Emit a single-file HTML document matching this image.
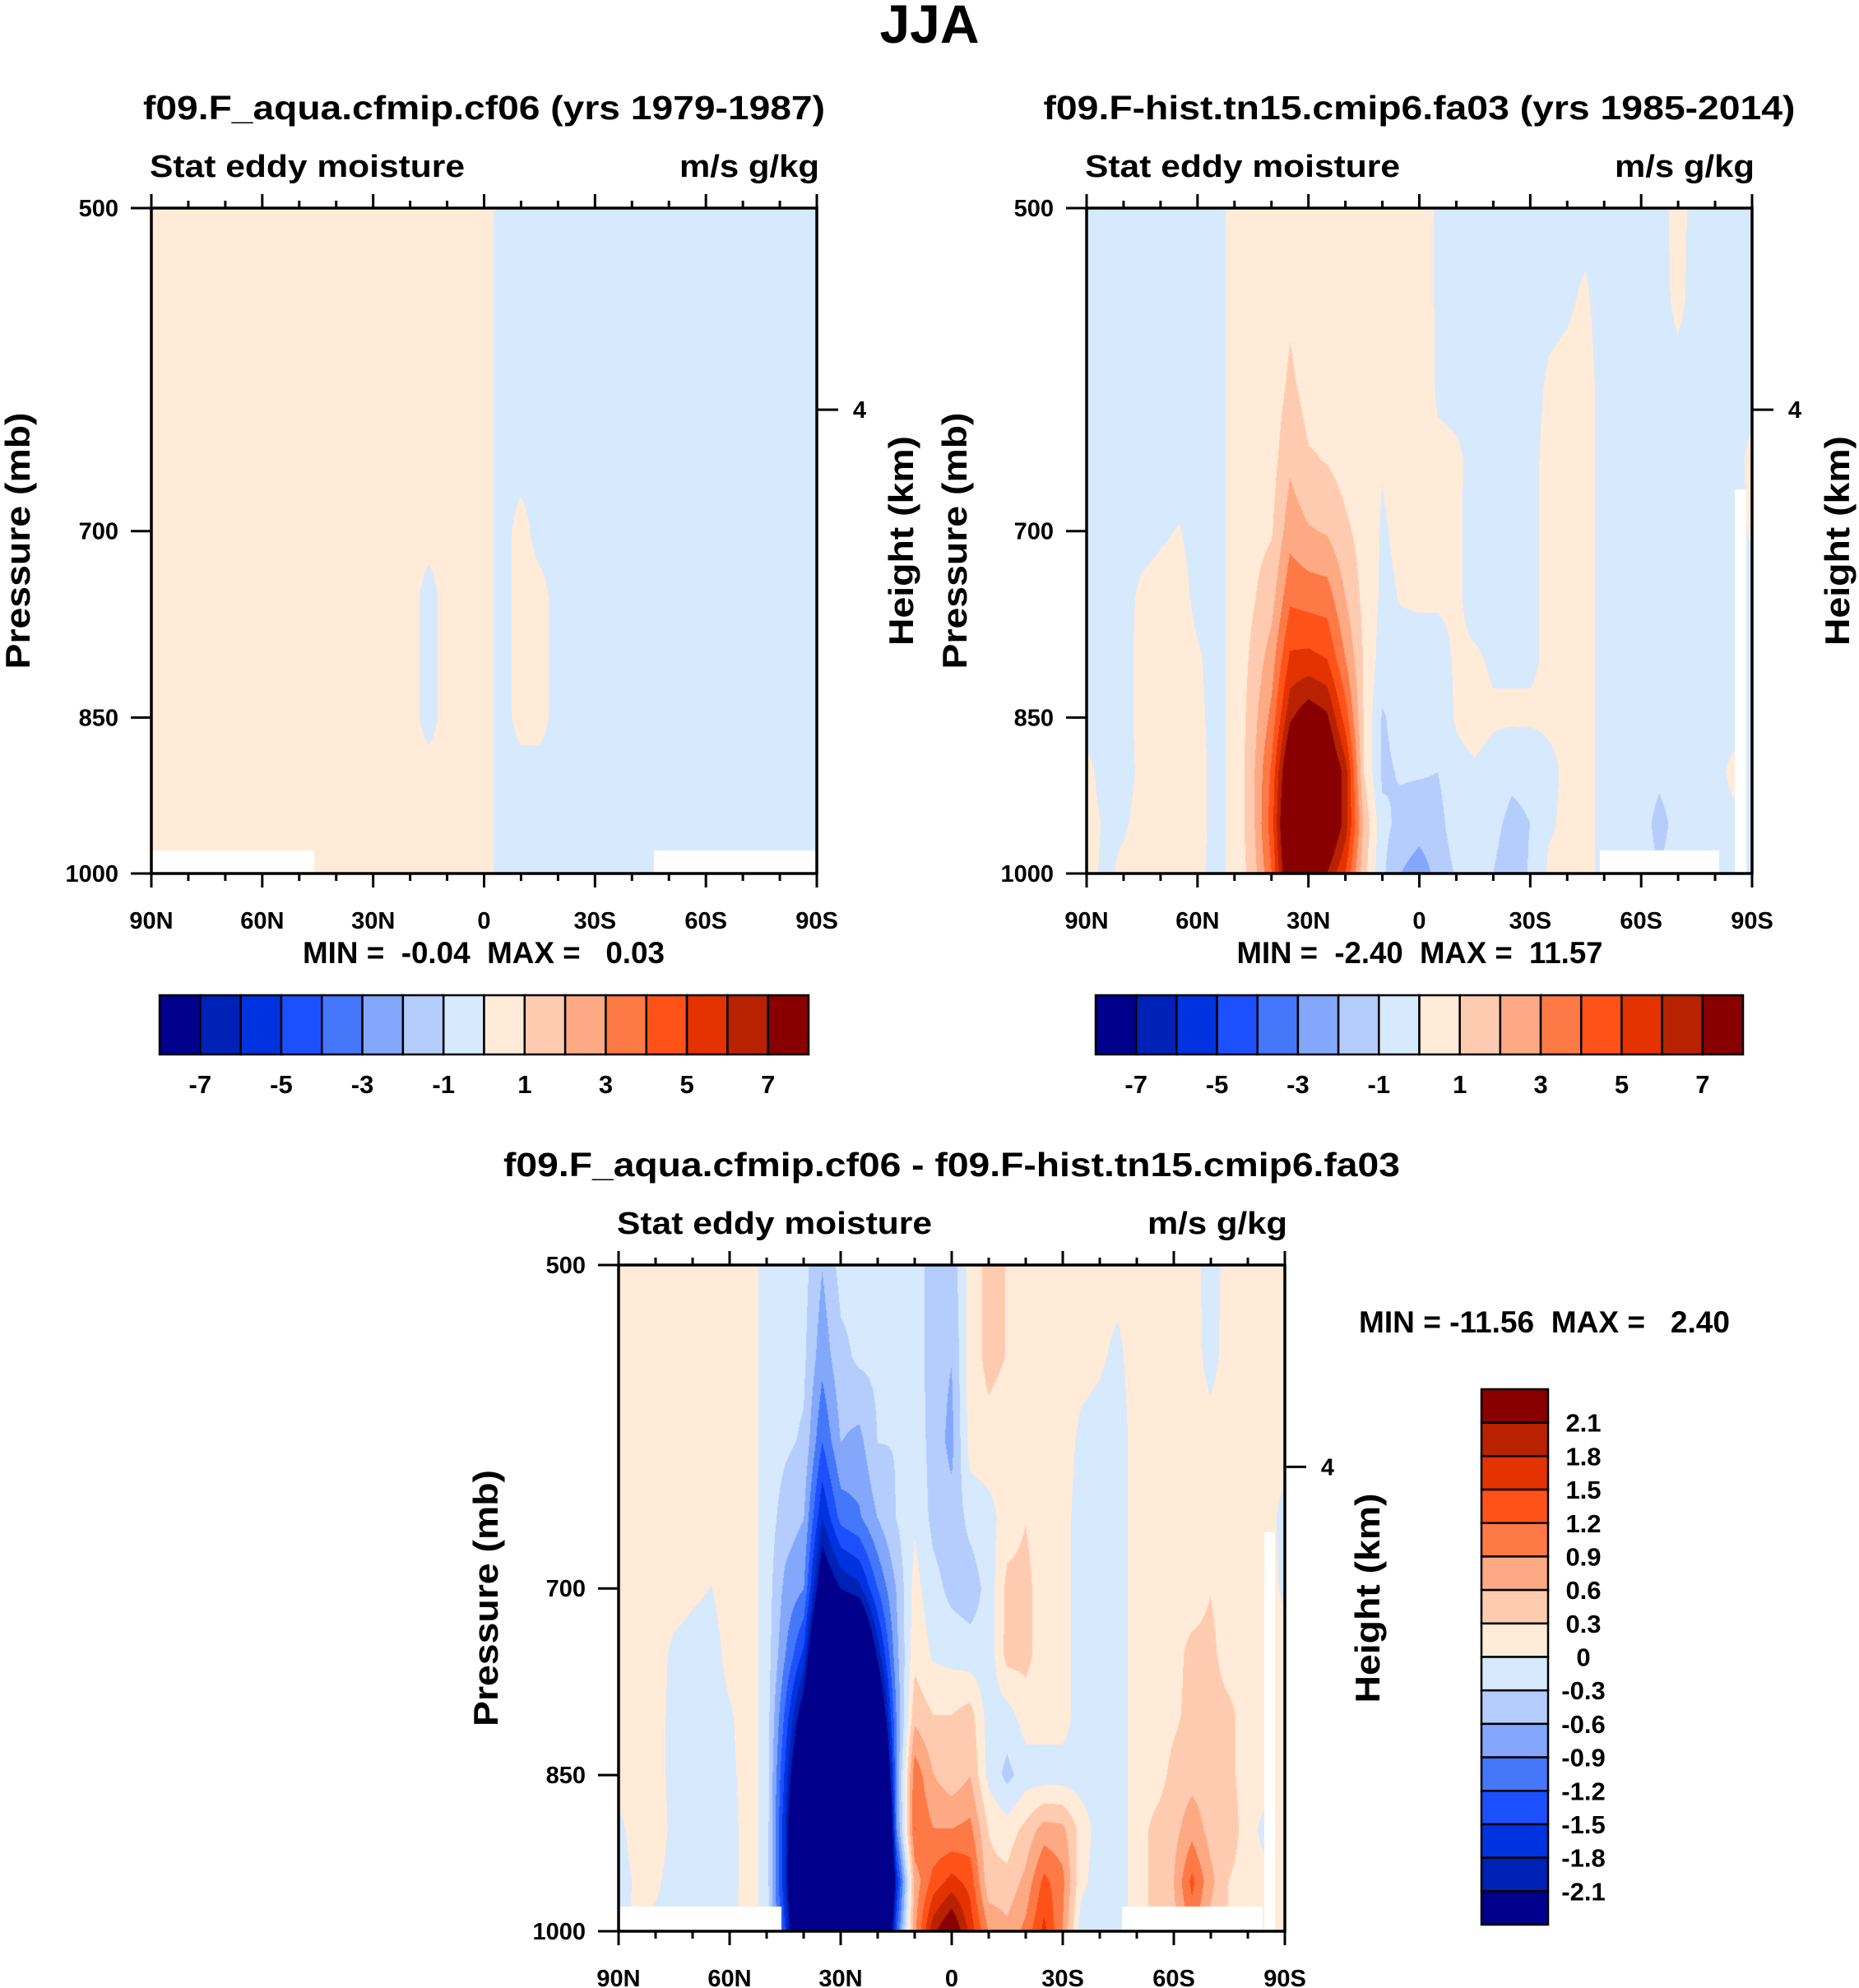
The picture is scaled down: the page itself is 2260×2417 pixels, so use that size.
<!DOCTYPE html>
<html><head><meta charset="utf-8">
<style>
html,body{margin:0;padding:0;background:#fff;}
#wrap{position:relative;width:2260px;height:2417px;overflow:hidden;background:#fff;}
canvas{position:absolute;}
svg{position:absolute;left:0;top:0;}
text{font-family:"Liberation Sans",Arial,sans-serif;font-weight:bold;fill:#000;}
</style></head>
<body>
<div id="wrap">
<canvas id="c1" width="809" height="809" style="left:184px;top:253px"></canvas>
<canvas id="c2" width="809" height="809" style="left:1321px;top:253px"></canvas>
<canvas id="c3" width="810" height="810" style="left:752px;top:1538px"></canvas>
<svg id="ov" width="2260" height="2417" xmlns="http://www.w3.org/2000/svg">
<text x="1130" y="52" font-size="66" text-anchor="middle">JJA</text>
</svg>
</div>
<script>
// ---------- data ----------
const levels = [500,550,600,650,700,750,800,850,900,950,1000];
const lats = [90,85,80,75,70,65,60,55,50,45,40,35,30,25,20,15,10,5,0,-5,-10,-15,-20,-25,-30,-35,-40,-45,-50,-55,-60,-65,-70,-75,-80,-85,-90];
// fa03 field, one array per latitude (values at the 11 levels)
const p2ByLat = [
[-.15,-.15,-.15,-.15,-.15,-.15,-.15,-.15,.1,.15,.15],
[-.15,-.15,-.15,-.15,-.15,-.15,-.15,-.15,-.15,-.05,-.1],
[-.15,-.15,-.15,-.15,-.15,-.15,-.15,-.15,-.15,-.05,.1],
[-.15,-.15,-.15,-.15,-.15,.1,.15,.15,.1,.15,.15],
[-.15,-.15,-.15,-.15,-.05,.15,.15,.15,.15,.15,.15],
[-.15,-.15,-.15,-.15,.02,.15,.15,.15,.15,.15,.15],
[-.15,-.15,-.15,-.15,-.15,-.1,.05,.1,.15,.15,.1],
[-.15,-.15,-.15,-.15,-.15,-.15,-.15,-.15,-.15,-.15,-.15],
[.15,.15,.15,.15,.15,.15,.15,.15,.15,.15,.15],
[.15,.2,.25,.45,.7,.9,1.3,1.6,1.8,1.8,1.5],
[.2,.25,.35,.6,.9,1.6,2.5,3.3,4.2,4.5,4.0],
[.6,.8,1.2,1.8,2.6,3.8,5.2,6.8,9,10,9],
[.2,.4,.6,1.1,2.1,3.6,5.3,7.8,11,11.5,11],
[.2,.25,.7,.95,1.9,3.5,5.0,7.2,9,9,7],
[.2,.25,.3,.6,1.2,2.0,3.0,4.5,6.5,6.5,5],
[.2,.2,.3,.3,.6,.7,.9,.9,1.0,1.8,1.3],
[.1,.1,.1,.05,-.1,-.2,-.5,-1.1,-1.2,-.7,-.8],
[.5,.5,.45,.4,.2,.05,-.3,-.6,-.9,-1.3,-2.0],
[.5,.6,.7,.5,.4,.1,-.3,-.4,-.9,-1.6,-2.5],
[-.15,-.15,-.15,.2,.45,.15,-.45,-.6,-1.0,-1.4,-1.7],
[-.4,-.4,-.2,.1,.2,.2,.15,.1,-.3,-.4,-.9],
[-.3,-.3,-.15,-.15,-.4,-.4,.15,.4,-.15,-.4,-.7],
[-.15,-.15,-.15,-.3,-.4,-.4,-.15,.15,-.4,-.7,-1.0],
[-.15,-.15,-.15,-.15,-.15,-.15,-.15,.15,-.75,-1.3,-1.6],
[-.15,-.15,-.15,-.15,-.15,-.15,-.15,.15,-.7,-1.0,-.9],
[-.1,-.1,.05,.15,.15,.15,.15,.15,-.2,-.1,.15],
[-.1,-.05,.1,.15,.15,.15,.15,.15,.15,.15,.15],
[-.1,.05,.15,.15,.15,.15,.15,.15,.15,.15,.15],
[-.15,-.15,-.15,-.15,-.15,-.15,-.15,-.15,-.15,-.15,-.15],
[-.15,-.15,-.15,-.15,-.15,-.15,-.15,-.15,-.4,-.4,-.4],
[-.15,-.15,-.15,-.15,-.2,-.2,-.25,-.4,-.5,-.6,-.5],
[-.15,-.15,-.15,-.15,-.15,-.4,-.4,-.5,-.8,-1.3,-1.0],
[.15,.1,-.15,-.15,-.3,-.4,-.45,-.45,-.5,-.7,-.5],
[-.15,-.15,-.15,-.15,-.15,-.15,-.4,-.4,-.5,-.3,-.3],
[-.15,-.15,-.15,-.15,-.15,-.15,-.15,-.15,-.15,-.15,-.15],
[-.15,-.15,-.15,-.15,-.15,-.15,-.15,-.15,.1,-.1,-.1],
[-.15,-.15,-.15,.1,.05,-.15,-.15,-.15,-.15,-.15,-.15]
];
// cf06 field: sign per latitude, with a few mid-level exceptions
const p1Base = [.01,.01,.01,.01,.01,.01,.01,.01,.01,.01,.01,.01,.01,.01,.01,.01,.01,.01,.01,-.01,-.01,-.01,-.01,-.01,-.01,-.01,-.01,-.01,-.01,-.01,-.01,-.01,-.01,-.01,-.01,-.01,-.01];
const p1Exceptions = [[15,5,-.01],[15,6,-.01],[15,7,-.01],[20,4,.01],[20,5,.01],[20,6,.01],[20,7,.01],[21,5,.01],[21,6,.01],[21,7,.01]];
const contourLevelsA = [-7,-6,-5,-4,-3,-2,-1,0,1,2,3,4,5,6,7];
const contourLevelsB = [-2.1,-1.8,-1.5,-1.2,-0.9,-0.6,-0.3,0,0.3,0.6,0.9,1.2,1.5,1.8,2.1];
const labelsA = ["-7","-5","-3","-1","1","3","5","7"];
const labelsB = ["2.1","1.8","1.5","1.2","0.9","0.6","0.3","0","-0.3","-0.6","-0.9","-1.2","-1.5","-1.8","-2.1"];
const xTickLabels = ["90N","60N","30N","0","30S","60S","90S"];
const yTickLabels = [500,700,850,1000];
const colors = ["#00008c","#0021b5","#0033e0","#1c50ff","#4577fa","#83a8fb","#b4cdfc","#d6e9fd","#ffebd7","#ffcbb0","#fdaa84","#fd7945","#ff5219","#e43200","#b82200","#880000"];

// ---------- derived fields ----------
const p1ByLat = lats.map((l,k)=>levels.map(()=>p1Base[k]));
p1Exceptions.forEach(e=>{p1ByLat[e[0]][e[1]]=e[2];});
const p3ByLat = lats.map((l,k)=>levels.map((v,j)=>p1ByLat[k][j]-p2ByLat[k][j]));

function sample(field, lat, p){
  let fk=(90-lat)/5; fk=Math.max(0,Math.min(36,fk));
  let fj=(p-500)/50; fj=Math.max(0,Math.min(10,fj));
  const k0=Math.min(35,Math.floor(fk)), j0=Math.min(9,Math.floor(fj));
  const a=fk-k0, b=fj-j0;
  const v00=field[k0][j0],v10=field[k0+1][j0],v01=field[k0][j0+1],v11=field[k0+1][j0+1];
  return (1-a)*(1-b)*v00+a*(1-b)*v10+(1-a)*b*v01+a*b*v11;
}
function colorIndex(v,lv){let i=0;while(i<lv.length&&v>=lv[i])i++;return i;}
function hexRgb(h){return [parseInt(h.substr(1,2),16),parseInt(h.substr(3,2),16),parseInt(h.substr(5,2),16)];}
const rgb=colors.map(hexRgb);
function drawField(id, field, lv, masks){
  const c=document.getElementById(id), W=c.width, H=c.height, ctx=c.getContext('2d');
  const img=ctx.createImageData(W,H);
  for(let y=0;y<H;y++){
    const p=500*Math.pow(2,y/(H-1));
    for(let x=0;x<W;x++){
      const lat=90-180*x/(W-1);
      let col=rgb[colorIndex(sample(field,lat,p),lv)];
      for(const m of masks){ if(lat<=m[0]&&lat>=m[1]&&p>=m[2]){col=[255,255,255];break;} }
      const o=(y*W+x)*4; img.data[o]=col[0];img.data[o+1]=col[1];img.data[o+2]=col[2];img.data[o+3]=255;
    }
  }
  ctx.putImageData(img,0,0);
}
drawField('c1',p1ByLat,contourLevelsA,[[90,46,977],[-46,-90,977]]);
drawField('c2',p2ByLat,contourLevelsA,[[-48.8,-81.3,977],[-85.5,-88.6,670]]);
drawField('c3',p3ByLat,contourLevelsB,[[90,46,975],[-46,-84,975],[-84.5,-87.5,660]]);

// ---------- axes / text ----------
const NS="http://www.w3.org/2000/svg";
const svg=document.getElementById('ov');
function el(tag,attrs,txt){const e=document.createElementNS(NS,tag);for(const k in attrs)e.setAttribute(k,attrs[k]);if(txt!==undefined)e.textContent=txt;svg.appendChild(e);return e;}
function panel(L,T,S,cfg){
  const xs=lat=>L+(90-lat)/180*S;
  const ys=p=>T+Math.log(p/500)/Math.LN2*S;
  const f=el('rect',{x:L,y:T,width:S,height:S,fill:'none',stroke:'#000','stroke-width':3.5});
   
  for(let lat=90;lat>=-90;lat-=10){
    const major=(lat%30===0), len=major?17:9, x=xs(lat);
    const t1=el('line',{x1:x,x2:x,y1:T,y2:T-len,stroke:'#000','stroke-width':3});
     
    const t2=el('line',{x1:x,x2:x,y1:T+S,y2:T+S+len,stroke:'#000','stroke-width':3});
     
  }
  xTickLabels.forEach((s,i)=>{
    const t=el('text',{x:xs(90-30*i),y:T+S+67,'font-size':29,'text-anchor':'middle'},s);
     
  });
  yTickLabels.forEach(p=>{
    const y=ys(p);
    const l=el('line',{x1:L-25,x2:L,y1:y,y2:y,stroke:'#000','stroke-width':3});
     
    const t=el('text',{x:L-40,y:y+10,'font-size':29,'text-anchor':'end'},String(p));
     
  });
  const hy=T+0.303*S;
  const rl=el('line',{x1:L+S,x2:L+S+26,y1:hy,y2:hy,stroke:'#000','stroke-width':3});
   
  const rt=el('text',{x:L+S+52,y:hy+10,'font-size':29,'text-anchor':'middle'},'4');
   
  const pcx=cfg.px, pcy=T+S/2;
  const pt=el('text',{x:pcx,y:pcy,'font-size':42,'text-anchor':'middle',transform:`rotate(-90 ${pcx} ${pcy})`,dy:14,textLength:312,lengthAdjust:'spacingAndGlyphs'},'Pressure (mb)');
   
  const hcx=cfg.hx;
  const ht=el('text',{x:hcx,y:pcy,'font-size':42,'text-anchor':'middle',transform:`rotate(-90 ${hcx} ${pcy})`,dy:14,textLength:255,lengthAdjust:'spacingAndGlyphs'},'Height (km)');
   
  const tt=el('text',{x:L+S/2,y:cfg.ty,'font-size':41,'text-anchor':'middle',textLength:cfg.tw,lengthAdjust:'spacingAndGlyphs'},cfg.title);
   
  const lt=el('text',{x:L-2,y:T-38,'font-size':38,textLength:383,lengthAdjust:'spacingAndGlyphs'},'Stat eddy moisture');
   
  const ut=el('text',{x:L+S+3,y:T-38,'font-size':38,'text-anchor':'end',textLength:170,lengthAdjust:'spacingAndGlyphs'},'m/s g/kg');
   
}
panel(184,253,809,{n:'cf06',px:22,hx:1096,ty:145,tw:829,title:'f09.F_aqua.cfmip.cf06 (yrs 1979-1987)'});
panel(1321,253,809,{n:'fa03',px:1161,hx:2234,ty:145,tw:914,title:'f09.F-hist.tn15.cmip6.fa03 (yrs 1985-2014)'});
panel(752,1538,810,{n:'diff',px:591,hx:1663,ty:1430,tw:1090,title:'f09.F_aqua.cfmip.cf06 - f09.F-hist.tn15.cmip6.fa03'});

function minmax(x,y,s,anchor,w){
  const t=el('text',{x:x,y:y,'font-size':37,'text-anchor':anchor,textLength:w,lengthAdjust:'spacingAndGlyphs'},s);
   
  t.style.whiteSpace='pre';
}
minmax(588,1171,'MIN =  -0.04  MAX =   0.03','middle',440);
minmax(1726,1171,'MIN =  -2.40  MAX =  11.57','middle',445);
minmax(1652,1620,'MIN = -11.56  MAX =   2.40','start',451);

function hbar(L,T,W,H){
  const bw=W/16;
  colors.forEach((c,i)=>{
    const r=el('rect',{x:L+i*bw,y:T,width:bw,height:H,fill:c,stroke:'#000','stroke-width':2.5});
     
  });
  labelsA.forEach((s,i)=>{
    const t=el('text',{x:L+(1+2*i)*bw,y:T+H+47,'font-size':31,'text-anchor':'middle'},s);
     
  });
}
hbar(194,1210,789,72);
hbar(1332,1210,787,72);
(function(){
  const L=1801,T=1689,W=81,H=651,bh=H/16;
  colors.slice().reverse().forEach((c,i)=>{
    const r=el('rect',{x:L,y:T+i*bh,width:W,height:bh,fill:c,stroke:'#000','stroke-width':2.5});
     
  });
  labelsB.forEach((s,i)=>{
    const t=el('text',{x:1925,y:T+(i+1)*bh+11,'font-size':31,'text-anchor':'middle'},s);
     
  });
})();
</script>
</body></html>
